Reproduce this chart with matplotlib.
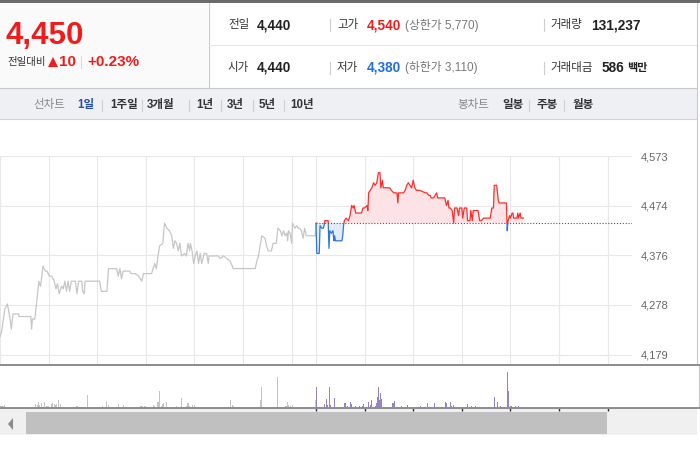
import numpy as np
import matplotlib.pyplot as plt
from matplotlib.patches import Rectangle, Polygon

plt.rcParams['font.family'] = ['Liberation Sans', 'Noto Sans CJK KR']

# previous session: minutes after 09:00, price
prev_t = [0, 2, 6, 9, 12, 14, 16, 23, 23.5, 38, 39, 40, 43, 45, 48, 50, 52, 53, 56, 58,
          61, 64, 67, 69, 71, 73, 76, 78, 80, 82, 84, 86, 88, 93, 95, 97, 101, 102, 104, 105,
          123, 125, 132, 134, 144, 146, 148, 150, 152, 160, 162, 167, 171, 175, 177, 187, 189, 191, 193, 195,
          197, 201, 203, 206, 209, 212, 214, 216, 218, 220, 222, 224, 228, 230, 232, 234, 235, 237, 239, 241,
          243, 245, 247, 249, 252, 255, 257, 258, 269, 272, 276, 280, 284, 288, 315, 317, 319, 321, 323, 327,
          329, 331, 335, 337, 341, 343, 346, 348, 350, 352, 354, 355, 356, 358, 360, 361, 364, 366, 368, 370,
          372, 374, 376, 378, 389, 390]
prev_p = [4215, 4225, 4270, 4280, 4255, 4230, 4260, 4260, 4255, 4255, 4230, 4250, 4250, 4280, 4325, 4315, 4340, 4355, 4345, 4345,
          4335, 4335, 4325, 4310, 4320, 4300, 4315, 4310, 4325, 4305, 4325, 4305, 4325, 4325, 4300, 4325, 4325, 4305, 4300, 4325,
          4325, 4305, 4305, 4350, 4350, 4335, 4350, 4330, 4345, 4345, 4340, 4340, 4335, 4325, 4340, 4340, 4350, 4360, 4350, 4375,
          4395, 4400, 4440, 4430, 4425, 4415, 4390, 4405, 4400, 4385, 4400, 4375, 4380, 4375, 4400, 4385, 4400, 4385, 4360, 4375,
          4385, 4360, 4380, 4360, 4380, 4380, 4360, 4375, 4375, 4370, 4375, 4370, 4365, 4350, 4350, 4365, 4375, 4395, 4415, 4410,
          4395, 4385, 4385, 4400, 4400, 4430, 4425, 4415, 4425, 4415, 4420, 4405, 4425, 4420, 4400, 4440, 4430, 4435, 4430, 4430,
          4425, 4410, 4430, 4415, 4415, 4440]

# today: minutes after 09:00, price
today_t = [0, 1, 4, 5, 7, 9, 10, 11, 13, 15, 16, 17, 19, 21, 22, 23, 24, 32, 33, 34,
           35, 37, 40, 42, 44, 46, 47, 49, 56, 58, 60, 63, 64, 65, 67, 69, 71, 73, 75, 77,
           79, 80, 82, 83, 91, 93, 96, 100, 101, 102, 108, 110, 112, 114, 116, 118, 120, 122, 124, 128,
           135, 137, 139, 141, 142, 145, 147, 149, 150, 159, 161, 163, 164, 166, 168, 170, 171, 174, 176, 177,
           180, 181, 183, 186, 187, 190, 191, 193, 194, 200, 202, 204, 207, 215, 217, 219, 220, 223, 225, 226,
           235, 236, 237, 239, 240, 242, 243, 244, 248, 249, 250, 252, 253, 256]
today_p = [4440, 4380, 4380, 4435, 4430, 4430, 4435, 4445, 4445, 4445, 4390, 4425, 4420, 4425, 4405, 4415, 4405, 4405, 4415, 4435,
           4445, 4450, 4445, 4455, 4475, 4470, 4475, 4460, 4460, 4470, 4470, 4475, 4465, 4500, 4505, 4510, 4520, 4515, 4520, 4540,
           4540, 4510, 4525, 4510, 4510, 4505, 4500, 4500, 4480, 4500, 4500, 4505, 4515, 4520, 4515, 4510, 4525, 4510, 4505, 4505,
           4500, 4500, 4495, 4495, 4490, 4490, 4495, 4500, 4490, 4490, 4475, 4485, 4470, 4470, 4465, 4440, 4470, 4470, 4455, 4470,
           4470, 4450, 4470, 4470, 4445, 4445, 4465, 4445, 4465, 4465, 4445, 4445, 4450, 4450, 4470, 4470, 4515, 4515, 4485, 4480,
           4480, 4425, 4445, 4455, 4450, 4460, 4460, 4450, 4450, 4460, 4450, 4460, 4450, 4450]

prev_close = 4440
price_ticks = [4179, 4278, 4376, 4474, 4573]

# volume bars (minutes after 09:00 of each session)
prev_vol_t = [1, 2.5, 4, 5, 6, 7, 13, 28, 44, 46, 47, 49, 51, 53, 55, 58, 60, 64, 65, 67,
              69, 70, 72, 75, 81, 95, 104, 108, 126, 132, 134, 146, 152, 163, 174, 176, 178, 180, 189, 191,
              194, 196, 197, 199, 200, 202, 205, 214, 218, 224, 225, 230, 232, 234, 238, 240, 285, 287, 288, 314,
              321, 323, 325, 342, 344, 353, 355, 356, 358, 359, 361, 367, 374, 389]
prev_vol = [17, 23, 17, 33, 17, 13, 13, 13, 43, 30, 60, 33, 50, 13, 60, 17, 20, 40, 50, 40,
            30, 37, 80, 40, 13, 23, 13, 133, 20, 73, 33, 43, 33, 13, 17, 23, 17, 23, 30, 17,
            60, 57, 173, 17, 43, 50, 63, 13, 23, 103, 13, 20, 53, 17, 33, 33, 83, 30, 20, 13,
            77, 213, 13, 313, 13, 23, 63, 33, 23, 13, 33, 13, 13, 83]
today_vol_t = [0.5, 2, 4, 11, 13, 14, 16.5, 18, 23, 26, 30, 32, 35, 36, 39, 42, 44, 46, 49, 53.5,
               57, 58.5, 65, 67, 68, 73, 75, 76, 77, 78, 79.5, 81, 86, 95, 97, 105, 113, 121, 129, 137.5,
               139, 141, 146, 155, 160, 161, 166, 167, 169.5, 177, 181, 187, 188, 192, 194, 197, 220, 221, 224, 227.5,
               236, 237.5, 240, 241.5, 246, 250]
today_vol = [213, 13, 13, 43, 93, 33, 213, 33, 103, 13, 13, 13, 53, 53, 23, 63, 40, 13, 23, 23,
             23, 43, 63, 33, 77, 23, 53, 113, 213, 83, 153, 93, 13, 53, 73, 23, 33, 13, 23, 53,
             13, 13, 53, 13, 63, 53, 63, 23, 33, 13, 13, 43, 13, 23, 13, 23, 113, 13, 63, 23,
             363, 173, 23, 17, 23, 23]

RED = '#f01b1b'
BLUE = '#1e6fe0'
W, H = 700, 450

fig = plt.figure(figsize=(7, 4.5), dpi=100)


def px_axes(x0, y0, x1, y1):
    return fig.add_axes([x0 / W, (H - y1) / H, (x1 - x0) / W, (y1 - y0) / H])


bg = fig.add_axes([0, 0, 1, 1])
bg.set_xlim(0, W)
bg.set_ylim(H, 0)
bg.axis('off')

# header frame
bg.add_patch(Rectangle((0, 0), 700, 2.5, color='#6b6b6b', lw=0))
bg.add_patch(Rectangle((0, 2.5), 208, 85.5, color='#fafafa', lw=0))
bg.plot([208.5, 208.5], [2.5, 88], color='#c8c8c8', lw=0.8)
bg.plot([208.5, 697], [45, 45], color='#e6e6e6', lw=0.8)
bg.add_patch(Rectangle((0, 88), 697, 31, color='#eff0f4', lw=0))
bg.plot([0, 697], [88, 88], color='#c8c8c8', lw=0.8)
bg.plot([0, 697], [119, 119], color='#d4d4d4', lw=0.8)
bg.plot([697, 697], [2.5, 408], color='#c8c8c8', lw=0.8)

# current price block
bg.text(6, 36, '4,450', fontsize=22.5, fontweight='bold', color=RED, va='center')
bg.text(7, 62, '전일대비', fontsize=7.5, color='#333333', va='center')
bg.add_patch(Polygon([(48, 67), (53, 57), (58, 67)], color=RED, lw=0))
bg.text(59, 62, '10', fontsize=11, fontweight='bold', color=RED, va='center')
bg.plot([81, 81], [56, 68], color='#dddddd', lw=0.8)
bg.text(87, 62, '+0.23%', fontsize=11, fontweight='bold', color=RED, va='center')

# quote table
for y, lab, val in [(25, '전일', '4,440'), (68, '시가', '4,440')]:
    bg.text(228, y, lab, fontsize=8.3, color='#333333', va='center')
    bg.text(257, y, val, fontsize=9.8, fontweight='bold', color='#222222', va='center')
for y in (25, 68):
    bg.plot([330, 330], [y - 6, y + 6], color='#cccccc', lw=0.8)
    bg.plot([544, 544], [y - 6, y + 6], color='#cccccc', lw=0.8)
bg.text(337, 25, '고가', fontsize=8.3, color='#333333', va='center')
bg.text(367, 25, '4,540', fontsize=9.8, fontweight='bold', color=RED, va='center')
bg.text(405, 25, '(상한가 5,770)', fontsize=8.5, color='#777777', va='center')
bg.text(337, 68, '저가', fontsize=8.3, color='#333333', va='center')
bg.text(367, 68, '4,380', fontsize=9.8, fontweight='bold', color=BLUE, va='center')
bg.text(405, 68, '(하한가 3,110)', fontsize=8.5, color='#777777', va='center')
bg.text(550, 25, '거래량', fontsize=8.3, color='#333333', va='center')
bg.text(591, 25, '131,237', fontsize=9.8, fontweight='bold', color='#222222', va='center')
bg.text(550, 68, '거래대금', fontsize=8.3, color='#333333', va='center')
bg.text(602, 68, '586', fontsize=9.8, fontweight='bold', color='#222222', va='center')
bg.text(627, 68, '백만', fontsize=8, fontweight='bold', color='#222222', va='center')

# period tabs
bg.text(33, 105, '선차트', fontsize=8.3, color='#888888', va='center')
bg.text(77, 105, '1일', fontsize=8.3, fontweight='bold', color='#2a4fa8', va='center')
for x, lab in [(110, '1주일'), (147, '3개월'), (196, '1년'), (227, '3년'), (259, '5년'), (290, '10년')]:
    bg.text(x, 105, lab, fontsize=8.3, fontweight='bold', color='#333333', va='center')
for x in (102, 142, 189, 221, 253, 284, 529, 564):
    bg.plot([x, x], [100, 111], color='#d0d0d0', lw=0.8)
bg.text(457, 105, '봉차트', fontsize=8.3, color='#888888', va='center')
for x, lab in [(502, '일봉'), (537, '주봉'), (573, '월봉')]:
    bg.text(x, 105, lab, fontsize=8.3, fontweight='bold', color='#333333', va='center')

# scrollbar
bg.add_patch(Rectangle((0, 408), 697, 27, color='#f0f0f0', lw=0))
bg.add_patch(Rectangle((26, 412), 581, 22, color='#c0c0c0', lw=0))
bg.add_patch(Polygon([(8, 424), (13, 418), (13, 430)], color='#8a8a8a', lw=0))

# volume legend
bg.add_patch(Rectangle((652.5, 374), 2.5, 8, color='#9b86c8', lw=0))
bg.text(657, 378, '거래량', fontsize=7.5, color='#444444', va='center')

# price chart
ax = px_axes(0, 156, 632, 365)
ax.set_facecolor('none')
ax.set_xlim(0, 780)
ax.set_ylim(4159, 4573)
for s in ax.spines.values():
    s.set_visible(False)
ax.set_xticks(list(range(0, 390, 60)) + list(range(390, 780, 60)))
ax.set_yticks(price_ticks)
ax.set_yticklabels([f'{v:,}' for v in price_ticks])
ax.yaxis.tick_right()
ax.tick_params(axis='x', length=0, labelbottom=False)
ax.tick_params(axis='y', length=0, pad=6, labelsize=8, labelcolor='#666666')
ax.grid(True, color='#e8e8e8', lw=0.8)
ax.set_axisbelow(True)

ax.plot(prev_t, prev_p, color='#c6c6c6', lw=0.9)

tx = 390 + np.array(today_t, dtype=float)
tp = np.array(today_p, dtype=float)
ax.fill_between(tx, tp, prev_close, where=tp >= prev_close, interpolate=True, color='#fde3e5', lw=0)
ax.fill_between(tx, tp, prev_close, where=tp <= prev_close, interpolate=True, color='#e2ecf9', lw=0)
up, = ax.plot(tx, tp, color='#ff2d2d', lw=0.9)
dn, = ax.plot(tx, tp, color='#2f76d6', lw=0.9)
up.set_clip_path(Rectangle((380, prev_close), 500, 500, transform=ax.transData))
dn.set_clip_path(Rectangle((380, prev_close - 500), 500, 500, transform=ax.transData))
ax.plot([390, 780], [prev_close, prev_close], color='#555555', lw=0.8, linestyle=(0, (1, 1.6)))

# volume panel
vax = px_axes(0, 365, 699, 408)
vax.set_facecolor('white')
vax.set_xlim(0, 780 * 699 / 632)
vax.set_ylim(0, 430)
vax.bar(prev_vol_t, prev_vol, width=1.3, color='#c4c4c4', lw=0)
vax.bar(390 + np.array(today_vol_t), today_vol, width=1.3, color='#9682c6', lw=0)
vax.spines['left'].set_visible(False)
vax.spines['top'].set_color('#8c8c8c')
vax.spines['top'].set_linewidth(1.4)
vax.spines['bottom'].set_color('#8c8c8c')
vax.spines['bottom'].set_linewidth(1.4)
vax.spines['right'].set_color('#c8c8c8')
vax.set_xticks(list(range(390, 780, 60)))
vax.set_yticks([])
vax.tick_params(axis='x', length=2, width=1, color='#333333', labelbottom=False)

fig.savefig('out.png', dpi=100)
